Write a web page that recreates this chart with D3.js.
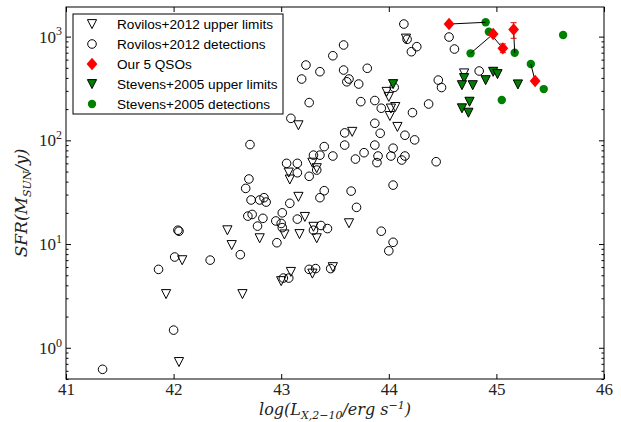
<!DOCTYPE html>
<html>
<head>
<meta charset="utf-8">
<script src="https://cdn.jsdelivr.net/npm/d3@7"></script>
<style>
  body { margin: 0; background: #fff; }
  svg { display: block; }
  .tick text { font-family: "Liberation Serif", serif; fill: #222; }
</style>
</head>
<body>
<div id="chart"></div>
<script>
// Rovilos+2012 upper limits (log Lx, SFR)
const rovUpperX = [41.93, 42.05, 42.08, 42.50, 42.54, 42.64, 42.80, 43.00, 43.09, 43.03, 43.17, 43.33, 43.30, 43.22, 43.63, 43.29, 43.48, 43.16, 43.07, 43.08, 43.29, 43.33, 43.16, 43.66, 44.02, 44.06, 44.01, 44.08, 43.98, 44.00, 44.16, 44.70];
const rovUpperY = [3.3, 0.73, 7.0, 13.6, 9.8, 3.3, 11.4, 4.4, 5.4, 12.4, 12.5, 11.4, 14.7, 18.3, 15.9, 5.2, 6.0, 140, 49, 42, 61, 54, 28.6, 121, 203, 210, 172, 135, 294, 263, 959, 443];

// Rovilos+2012 detections
const rovDetX = [41.34, 42.00, 41.86, 42.01, 42.04, 42.05, 42.34, 42.62, 42.78, 42.96, 42.83, 42.95, 43.00, 43.01, 43.02, 43.07, 43.26, 43.32, 43.46, 43.15, 43.37, 43.43, 43.30, 43.93, 44.04, 44.00,
  43.09, 42.71, 43.05, 43.15, 43.15, 43.26, 43.33, 42.70, 42.67, 42.72, 42.80, 42.84, 42.86, 43.08, 42.69, 42.73, 43.01,
  43.26, 43.74, 43.87, 43.93, 44.22, 44.37, 43.87, 43.59, 43.92, 44.15, 44.24, 43.59, 43.87, 43.40, 43.30, 43.36, 43.48, 43.77, 44.04, 43.69, 43.90, 43.89, 44.02, 44.15, 44.12, 44.44,
  43.40, 43.36, 43.65, 43.70, 44.04, 44.14, 44.17, 44.26, 44.21, 43.58, 43.48, 43.23, 43.36, 43.19, 43.58, 43.63, 43.61, 43.72, 43.80, 44.05, 44.46, 44.49, 44.56, 44.61, 44.84];
const rovDetY = [0.62, 1.48, 5.7, 7.5, 13.6, 13.3, 7.0, 7.9, 14.9, 10.3, 17.7, 16.7, 15.8, 14.4, 4.7, 4.7, 5.7, 5.8, 5.8, 17.4, 15.1, 14.1, 13.6, 13.3, 10.4, 8.6,
  163, 91, 60, 60, 48.7, 45, 51.7, 42.4, 34.4, 26.6, 26.6, 28, 25.4, 24.7, 18.6, 19.3, 20,
  231, 236, 242, 204, 185, 224, 146, 118, 117, 112, 101, 90, 90, 87, 72, 72, 70.6, 76, 84, 66, 70.6, 61, 70.6, 70.6, 64.6, 62.2,
  32.7, 28, 32.4, 22.6, 37, 1322, 942, 800, 715, 830, 654, 532, 459, 390, 476, 390, 367, 349, 495, 324, 381, 323, 991, 759, 466];

// Our 5 QSOs
const qsoX = [44.56, 44.97, 45.06, 45.16, 45.36];
const qsoY = [1322, 1060, 771, 1170, 373];
const qsoLow = [null, null, 700, 964, null];
const qsoHigh = [null, null, 850, 1361, null];

// Stevens+2005 upper limits
const stevUpperX = [44.04, 44.70, 44.68, 44.78, 44.90, 44.97, 45.01, 45.20, 44.75, 44.68, 44.74];
const stevUpperY = [349, 399, 341, 341, 381, 459, 436, 347, 236, 204, 185];

// Stevens+2005 detections
const stevDetX = [44.90, 44.93, 44.76, 45.17, 45.32, 45.44, 45.62, 45.05];
const stevDetY = [1374, 1115, 690, 700, 544, 312, 1036, 245];

// QSO index -> matching Stevens detection index
const qsoMatch = [0, 2, 1, 3, 4];

const xTicks = [41, 42, 43, 44, 45, 46];
const yTicks = [1, 10, 100, 1000];
const yTickExp = ["0", "1", "2", "3"];

const legendLabels = ["Rovilos+2012 upper limits", "Rovilos+2012 detections", "Our 5 QSOs", "Stevens+2005 upper limits", "Stevens+2005 detections"];

const width = 621, height = 422;
const plot = { left: 66, right: 604, top: 7, bottom: 379 };

const svg = d3.select("#chart").append("svg")
  .attr("width", width)
  .attr("height", height);

// Scales
const xScale = d3.scaleLinear().domain([41, 46]).range([plot.left, plot.right]);
const yScale = d3.scaleLog().domain([0.5, 1930]).range([plot.bottom, plot.top]);

const minorY = [];
[0.1, 1, 10, 100, 1000].forEach(p => {
  for (let k = 2; k <= 9; k++) {
    const v = p * k;
    if (v >= 0.5 && v <= 1930) minorY.push(v);
  }
});

// Axes
const bottomAxis = d3.axisBottom(xScale).tickValues(xTicks).tickFormat(d3.format("d"))
  .tickSize(-5).tickPadding(4);
svg.append("g").attr("class", "axis-x")
  .attr("transform", `translate(0, ${plot.bottom})`)
  .call(bottomAxis)
  .call(g => g.select(".domain").remove())
  .selectAll("text").attr("font-size", 17);

svg.append("g")
  .attr("transform", `translate(0, ${plot.top})`)
  .call(d3.axisTop(xScale).tickValues(xTicks).tickFormat("").tickSize(-5))
  .call(g => g.select(".domain").remove());

const leftAxis = d3.axisLeft(yScale).tickValues(yTicks).tickSize(-5).tickPadding(4);
svg.append("g").attr("class", "axis-y")
  .attr("transform", `translate(${plot.left}, 0)`)
  .call(leftAxis)
  .call(g => g.select(".domain").remove())
  .selectAll("text")
    .attr("font-size", 17)
    .each(function(d, i) {
      const t = d3.select(this).text(null);
      t.append("tspan").text("10");
      t.append("tspan").attr("font-size", 12).attr("dy", "-0.6em").text(yTickExp[i]);
    });

svg.append("g")
  .attr("transform", `translate(${plot.left}, 0)`)
  .call(d3.axisLeft(yScale).tickValues(minorY).tickFormat("").tickSize(-2.5))
  .call(g => g.select(".domain").remove());

svg.append("g")
  .attr("transform", `translate(${plot.right}, 0)`)
  .call(d3.axisRight(yScale).tickValues(yTicks).tickFormat("").tickSize(-5))
  .call(g => g.select(".domain").remove());

svg.append("g")
  .attr("transform", `translate(${plot.right}, 0)`)
  .call(d3.axisRight(yScale).tickValues(minorY).tickFormat("").tickSize(-2.5))
  .call(g => g.select(".domain").remove());

// Frame
svg.append("rect")
  .attr("x", plot.left).attr("y", plot.top)
  .attr("width", plot.right - plot.left).attr("height", plot.bottom - plot.top)
  .attr("fill", "none").attr("stroke", "#000").attr("stroke-width", 1);

// Marker shapes
const triPath = "M-4.6,-4.4L4.6,-4.4L0,4.6Z";
const diamondPath = "M0,-6.2L5.4,0L0,6.2L-5.4,0Z";

const toPoints = (xs, ys) => xs.map((x, i) => ({ x: x, y: ys[i] }));

const inner = svg.append("g");

// Rovilos upper limits
inner.selectAll(".rov-up")
  .data(toPoints(rovUpperX, rovUpperY))
  .join("path")
    .attr("class", "rov-up")
    .attr("d", triPath)
    .attr("transform", d => `translate(${xScale(d.x)}, ${yScale(d.y)})`)
    .attr("fill", "none")
    .attr("stroke", "#000")
    .attr("stroke-width", 1);

// Rovilos detections
inner.selectAll(".rov-det")
  .data(toPoints(rovDetX, rovDetY))
  .join("circle")
    .attr("class", "rov-det")
    .attr("r", 4.3)
    .attr("cx", d => xScale(d.x))
    .attr("cy", d => yScale(d.y))
    .attr("fill", "none")
    .attr("stroke", "#000")
    .attr("stroke-width", 1);

// Stevens upper limits
inner.selectAll(".stev-up")
  .data(toPoints(stevUpperX, stevUpperY))
  .join("path")
    .attr("class", "stev-up")
    .attr("d", triPath)
    .attr("transform", d => `translate(${xScale(d.x)}, ${yScale(d.y)})`)
    .attr("fill", "#008000")
    .attr("stroke", "#000")
    .attr("stroke-width", 1);

// Stevens detections
inner.selectAll(".stev-det")
  .data(toPoints(stevDetX, stevDetY))
  .join("circle")
    .attr("class", "stev-det")
    .attr("r", 4.2)
    .attr("cx", d => xScale(d.x))
    .attr("cy", d => yScale(d.y))
    .attr("fill", "#008000");

// Links QSO -> Stevens counterpart
inner.selectAll(".link")
  .data(qsoMatch)
  .join("line")
    .attr("class", "link")
    .attr("x1", (m, i) => xScale(qsoX[i]))
    .attr("y1", (m, i) => yScale(qsoY[i]))
    .attr("x2", m => xScale(stevDetX[m]))
    .attr("y2", m => yScale(stevDetY[m]))
    .attr("stroke", "#000")
    .attr("stroke-width", 1);

// Error bars
const errData = qsoX.map((x, i) => ({ x: x, lo: qsoLow[i], hi: qsoHigh[i] })).filter(d => d.lo !== null);
const err = inner.selectAll(".err").data(errData).join("g").attr("class", "err")
  .attr("stroke", "#e00000").attr("stroke-width", 1);
err.append("line")
  .attr("x1", d => xScale(d.x)).attr("x2", d => xScale(d.x))
  .attr("y1", d => yScale(d.lo)).attr("y2", d => yScale(d.hi));
err.append("line")
  .attr("x1", d => xScale(d.x) - 3).attr("x2", d => xScale(d.x) + 3)
  .attr("y1", d => yScale(d.lo)).attr("y2", d => yScale(d.lo));
err.append("line")
  .attr("x1", d => xScale(d.x) - 3).attr("x2", d => xScale(d.x) + 3)
  .attr("y1", d => yScale(d.hi)).attr("y2", d => yScale(d.hi));

// Our QSOs
inner.selectAll(".qso")
  .data(toPoints(qsoX, qsoY))
  .join("path")
    .attr("class", "qso")
    .attr("d", diamondPath)
    .attr("transform", d => `translate(${xScale(d.x)}, ${yScale(d.y)})`)
    .attr("fill", "#ff0000");

// Legend
const legend = svg.append("g").attr("transform", "translate(73, 14)");
legend.append("rect")
  .attr("width", 210).attr("height", 100)
  .attr("fill", "#fff").attr("stroke", "#000").attr("stroke-width", 1);

const legendRows = legend.selectAll(".row")
  .data(legendLabels)
  .join("g")
    .attr("class", "row")
    .attr("transform", (d, i) => `translate(0, ${10 + i * 20})`);

legendRows.append("text")
  .attr("x", 44)
  .attr("y", 0)
  .attr("dy", "0.35em")
  .attr("font-family", "'Liberation Sans', Arial, sans-serif")
  .attr("font-size", 13.6)
  .attr("fill", "#000")
  .text(d => d);

legendRows.each(function(d, i) {
  const g = d3.select(this);
  if (i === 0) g.append("path").attr("d", triPath).attr("transform", "translate(19, 0)")
    .attr("fill", "none").attr("stroke", "#000");
  if (i === 1) g.append("circle").attr("cx", 19).attr("r", 4.3)
    .attr("fill", "none").attr("stroke", "#000");
  if (i === 2) g.append("path").attr("d", diamondPath).attr("transform", "translate(19, 0)")
    .attr("fill", "#ff0000");
  if (i === 3) g.append("path").attr("d", triPath).attr("transform", "translate(19, 0)")
    .attr("fill", "#008000").attr("stroke", "#000");
  if (i === 4) g.append("circle").attr("cx", 19).attr("r", 4.2).attr("fill", "#008000");
});

// Axis titles
const xTitle = svg.append("text")
  .attr("x", (plot.left + plot.right) / 2)
  .attr("y", 415)
  .attr("text-anchor", "middle")
  .attr("font-family", "'DejaVu Serif', serif")
  .attr("font-style", "italic")
  .attr("font-size", 16)
  .attr("fill", "#222");
xTitle.append("tspan").text("log(L");
xTitle.append("tspan").attr("font-size", 11).attr("dy", 4).text("X,2−10");
xTitle.append("tspan").attr("dy", -4).text("/erg s");
xTitle.append("tspan").attr("font-size", 11).attr("dy", -6).text("−1");
xTitle.append("tspan").attr("dy", 6).text(")");

const yTitle = svg.append("text")
  .attr("transform", `translate(27, ${(plot.top + plot.bottom) / 2 + 10}) rotate(-90)`)
  .attr("text-anchor", "middle")
  .attr("font-family", "'DejaVu Serif', serif")
  .attr("font-style", "italic")
  .attr("font-size", 17)
  .attr("fill", "#222");
yTitle.append("tspan").text("SFR(M");
yTitle.append("tspan").attr("font-size", 11).attr("dy", 4).text("SUN");
yTitle.append("tspan").attr("dy", -4).text("/y)");
</script>
</body>
</html>
